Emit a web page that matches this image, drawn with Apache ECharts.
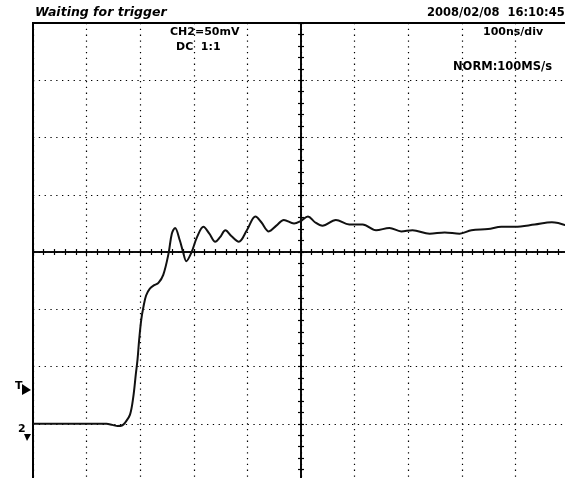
<!DOCTYPE html>
<html><head><meta charset="utf-8">
<script src="https://cdn.jsdelivr.net/npm/echarts@6/dist/echarts.min.js"></script>
<style>html,body{margin:0;padding:0;background:#fff;overflow:hidden}#c{width:580px;height:495px}</style>
</head><body><div id="c"></div>
<script>
// time offset from screen centre (ns), 100 ns/div
const timeNs = [-500,-363,-352,-342,-334,-328,-319,-313,-308,-305,-302,-298,-294,-289,-282,-274,-266,-257,-247,-241,-235,-226,-220,-214,-204,-194,-182,-171,-160,-151,-141,-130,-116,-101,-85,-74,-60,-46,-32,-13,-1,13,26,40,65,90,115,140,165,187,208,240,268,296,318,349,374,399,436,468,496];
// CH2 voltage (mV), 50 mV/div
const voltageMv = [-150,-150,-151,-152,-151.5,-149,-142,-127,-106,-94,-77,-59,-48,-38,-32,-29,-27,-20,-1,16,21,10,0,-8,0,13,22,16,9,13,19,14,9,19,31,26,18,23,28,25,27,31,26,23,28,24,24,19,21,18,19,16,17,16,19,20,22,22,24,26,23];
const xTicks = [-500,500,100];
const yTicks = [-200,200,50];
const texts = {
  status: 'Waiting for trigger',
  date: '2008/02/08  16:10:45',
  ch: 'CH2=50mV',
  coupling: 'DC  1:1',
  timebase: '100ns/div',
  mode: 'NORM:100MS/s'
};

const chart = echarts.init(document.getElementById('c'), null, {renderer:'canvas'});
const dotted = {show:true, lineStyle:{color:'#000', width:1.2, type:[1.3,4.5]}};
const tickAxisX = (pos, show) => ({
  type:'value', min:xTicks[0], max:xTicks[1], interval:xTicks[2], position:pos,
  axisLine:{show:true, onZero:true, lineStyle:{color:'#000', width:1.6}},
  axisTick:{show:true, inside:false, length:3, lineStyle:{color:'#000', width:1.2}},
  minorTick:{show:true, splitNumber:5, length:3, lineStyle:{color:'#000', width:1.2}},
  axisLabel:{show:false}, splitLine: show ? dotted : {show:false}
});
const tickAxisY = (pos, show) => ({
  type:'value', min:yTicks[0], max:yTicks[1], interval:yTicks[2], position:pos,
  axisLine:{show:true, onZero:true, lineStyle:{color:'#000', width:1.6}},
  axisTick:{show:true, inside:false, length:3, lineStyle:{color:'#000', width:1.2}},
  minorTick:{show:true, splitNumber:5, length:3, lineStyle:{color:'#000', width:1.2}},
  axisLabel:{show:false}, splitLine: show ? dotted : {show:false}
});
const font = '"DejaVu Sans", "Liberation Sans", sans-serif';
chart.setOption({
  backgroundColor:'#fff',
  animation:false,
  grid:{left:33, top:23, width:536, height:458, show:true, borderColor:'#000', borderWidth:2, backgroundColor:'transparent'},
  xAxis:[tickAxisX('bottom', true), tickAxisX('top', false)],
  yAxis:[tickAxisY('left', true), tickAxisY('right', false)],
  series:[{
    type:'line', data: timeNs.map((t,i)=>[t, voltageMv[i]]),
    showSymbol:false, smooth:0.35, clip:true,
    lineStyle:{color:'#111', width:2}
  }],
  graphic:[
    {type:'text', left:35, top:6, style:{text:texts.status, font:'italic bold 12.5px '+font, fill:'#000'}},
    {type:'text', left:427, top:7, style:{text:texts.date, font:'bold 11.5px '+font, fill:'#000'}},
    {type:'text', left:170, top:27, style:{text:texts.ch, font:'bold 11px '+font, fill:'#000'}},
    {type:'text', left:176, top:42, style:{text:texts.coupling, font:'bold 11px '+font, fill:'#000'}},
    {type:'text', left:483, top:27, style:{text:texts.timebase, font:'bold 11px '+font, fill:'#000'}},
    {type:'text', left:453, top:61, style:{text:texts.mode, font:'bold 11.5px '+font, fill:'#000'}},
    {type:'text', left:15, top:381, style:{text:'T', font:'bold 11px '+font, fill:'#000'}},
    {type:'polygon', shape:{points:[[22,384],[31,390],[22,395]]}, style:{fill:'#000'}},
    {type:'text', left:18, top:424, style:{text:'2', font:'bold 11px '+font, fill:'#000'}},
    {type:'polygon', shape:{points:[[24,434],[31,434],[27,441]]}, style:{fill:'#000'}}
  ]
});
</script></body></html>
